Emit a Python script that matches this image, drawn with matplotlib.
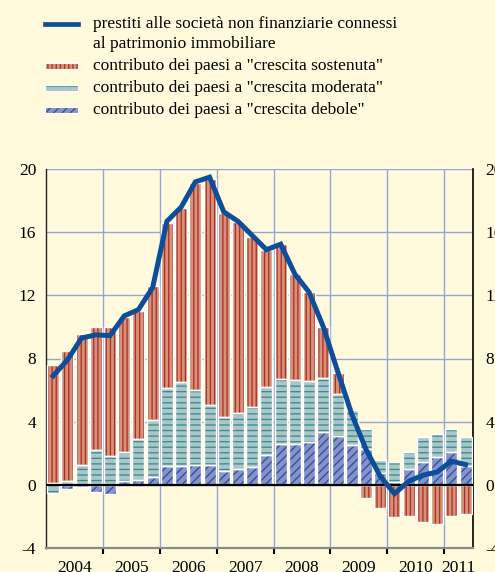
import matplotlib
matplotlib.use('Agg')
import matplotlib.pyplot as plt
import numpy as np
from matplotlib.patches import Rectangle

# ---------------- data (quarterly, 2004Q1 - 2011Q2) ----------------
years = ['2004', '2005', '2006', '2007', '2008', '2009', '2010', '2011']
quarters_per_year = [4, 4, 4, 4, 4, 4, 4, 2]

debole = [0.10, -0.30, -0.15, -0.45, -0.60, 0.20, 0.32, 0.47, 1.17, 1.17,
          1.27, 1.27, 0.85, 0.96, 1.10, 1.91, 2.59, 2.59, 2.72, 3.35,
          3.06, 2.50, 2.29, 0.74, 0.15, 0.96, 1.44, 1.76, 2.08, 1.17]
moderata = [-0.55, 0.25, 1.25, 2.20, 1.80, 1.90, 2.55, 3.63, 4.99, 5.35,
            4.72, 3.76, 3.44, 3.56, 3.83, 4.29, 4.10, 4.03, 3.86, 3.44,
            2.67, 2.21, 1.21, 0.85, 1.27, 1.12, 1.57, 1.47, 1.42, 1.84]
sostenuta = [7.50, 8.20, 8.30, 7.80, 8.20, 8.55, 8.13, 8.47, 10.44, 11.04,
             13.16, 14.33, 12.97, 12.15, 10.78, 8.70, 8.55, 6.71, 5.61, 3.19,
             1.38, 0.00, -0.85, -1.49, -2.08, -1.97, -2.40, -2.50, -1.97, -1.87]
prestiti = [6.9, 7.9, 9.3, 9.5, 9.45, 10.7, 11.1, 12.5, 16.7, 17.6,
            19.2, 19.5, 17.3, 16.7, 15.8, 14.9, 15.25, 13.35, 12.2, 10.0,
            7.2, 4.46, 2.23, 0.53, -0.57, 0.21, 0.6, 0.8, 1.49, 1.27]

labels = ['prestiti alle società non finanziarie connessi\nal patrimonio immobiliare',
          'contributo dei paesi a "crescita sostenuta"',
          'contributo dei paesi a "crescita moderata"',
          'contributo dei paesi a "crescita debole"']

# ---------------- style ----------------
BG = '#FFFADB'
GRID = '#94A4DA'
LINE = '#0C4E9A'
series = [
    (debole,    '#8593C9', '#2F4FA0', '////'),
    (moderata,  '#A9C6C9', '#3D8A8F', '---'),
    (sostenuta, '#D4927C', '#B0301E', '||||'),
]
SERIF = ['Liberation Serif', 'DejaVu Serif']

plt.rcParams['hatch.linewidth'] = 0.95

W, H = 495, 572
fig = plt.figure(figsize=(W / 100, H / 100), dpi=100, facecolor=BG)

def fx(x):
    return x / W

def fy(y):
    return 1 - y / H

ax_l, ax_r, ax_t, ax_b = 46, 472.7, 169.3, 547.7
ax = fig.add_axes([fx(ax_l), fy(ax_b), fx(ax_r) - fx(ax_l), fy(ax_t) - fy(ax_b)])
ax.set_facecolor(BG)

n = len(prestiti)
x = np.arange(n)
width = 0.84
pos_base = np.zeros(n)
neg_base = np.zeros(n)
for vals, fc, hc, hatch in series:
    v = np.array(vals)
    bottom = np.where(v >= 0, pos_base, neg_base)
    ax.bar(x, v, width, bottom=bottom, color=fc, edgecolor=hc, linewidth=0,
           hatch=hatch, zorder=2)
    ax.bar(x, v, width, bottom=bottom, fill=False, edgecolor='white',
           linewidth=1.0, zorder=3)
    pos_base = pos_base + np.where(v >= 0, v, 0)
    neg_base = neg_base + np.where(v < 0, v, 0)

ax.axhline(0, color='black', lw=1.6, zorder=4)
ax.plot(x, prestiti, color=LINE, lw=3.6, zorder=5, solid_joinstyle='miter')

ax.set_xlim(-0.5, n - 0.5)
ax.set_ylim(-4, 20)

# grid
yt = np.arange(-4, 21, 4)
bounds = np.cumsum(quarters_per_year)[:-1] - 0.5
for b in bounds:
    ax.axvline(b, color=GRID, lw=1.0, zorder=1)
for t in yt[1:]:
    ax.axhline(t, color=GRID, lw=1.0, zorder=1)

# spines
ax.spines['top'].set_visible(False)
ax.spines['left'].set_color('#222222')
ax.spines['left'].set_linewidth(1.0)
ax.spines['right'].set_color('black')
ax.spines['right'].set_linewidth(1.2)
ax.spines['bottom'].set_color('#8A8A8A')
ax.spines['bottom'].set_linewidth(1.6)

# y ticks left & right
ax.set_yticks(yt)
ax.set_yticklabels([str(t) for t in yt], family=SERIF, fontsize=12.5)
ax.tick_params(axis='y', length=0, pad=7)
ax2 = ax.twinx()
ax2.set_ylim(-4, 20)
ax2.set_yticks(yt)
ax2.set_yticklabels([str(t) for t in yt], family=SERIF, fontsize=12.5)
ax2.tick_params(axis='y', length=0, pad=9)
for s in ax2.spines.values():
    s.set_visible(False)

# x ticks: boundaries (major) & year labels (minor)
starts = np.concatenate([[0], np.cumsum(quarters_per_year)[:-1]])
centers = starts + np.array(quarters_per_year) / 2 - 0.5
ax.set_xticks(bounds)
ax.set_xticklabels([])
ax.tick_params(axis='x', which='major', length=4, width=1.5, color='black', direction='out')
ax.set_xticks(centers, minor=True)
ax.set_xticklabels(years, minor=True, family=SERIF, fontsize=12.5)
ax.tick_params(axis='x', which='minor', length=0, pad=9)

# ---------------- legend (manual, figure coords) ----------------
hx0, hx1 = 45, 78
tx = 93
fs = 12.5
fig.add_artist(plt.Line2D([fx(hx0), fx(hx1)], [fy(24), fy(24)], color=LINE, lw=3.4))
fig.text(fx(tx), fy(24), labels[0].split('\n')[0], family=SERIF, fontsize=fs, va='center')
fig.text(fx(tx), fy(43.5), labels[0].split('\n')[1], family=SERIF, fontsize=fs, va='center')
rows = [(66, series[2]), (88, series[1]), (110, series[0])]
for (yc, (_, fc, hc, hatch)), lab in zip(rows, labels[1:]):
    r = Rectangle((fx(hx0), fy(yc + 3)), fx(hx1) - fx(hx0), fy(yc - 3) - fy(yc + 3),
                  transform=fig.transFigure, facecolor=fc, edgecolor=hc, lw=0, hatch=hatch)
    fig.add_artist(r)
    fig.add_artist(Rectangle((fx(hx0), fy(yc + 3)), fx(hx1) - fx(hx0), fy(yc - 3) - fy(yc + 3),
                             transform=fig.transFigure, fill=False, edgecolor='white', lw=0.8))
    fig.text(fx(tx), fy(yc), lab, family=SERIF, fontsize=fs, va='center')

fig.savefig('out.png', dpi=100, facecolor=BG)
